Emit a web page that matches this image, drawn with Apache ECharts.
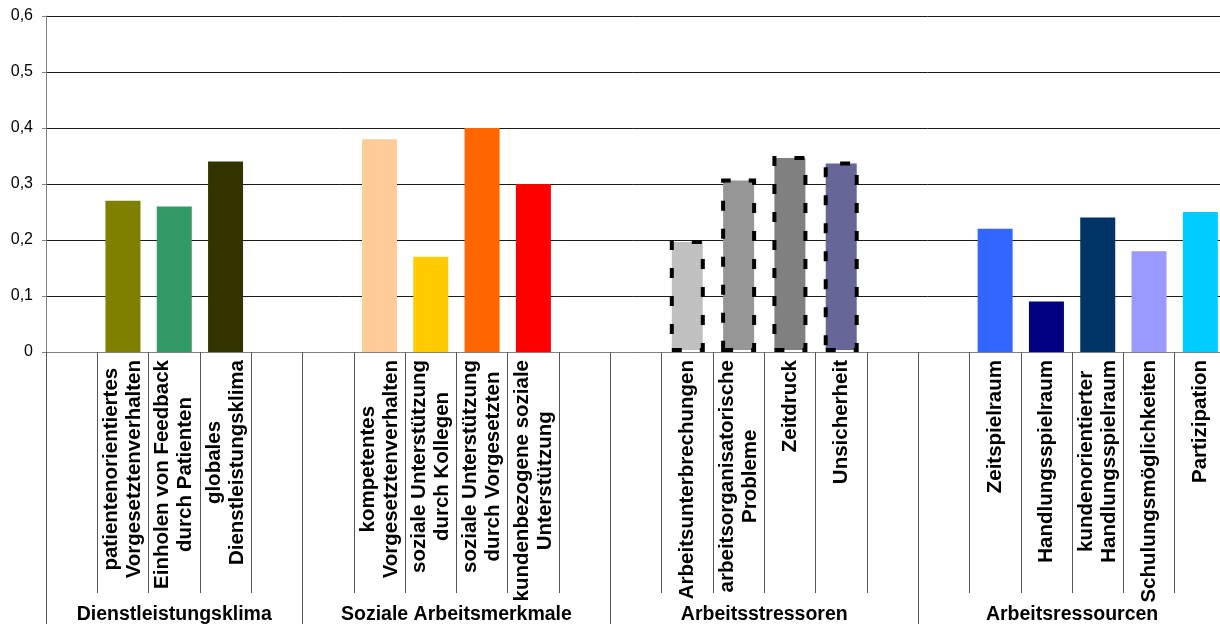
<!DOCTYPE html>
<html>
<head>
<meta charset="utf-8">
<script src="https://cdn.jsdelivr.net/npm/echarts@6/dist/echarts.min.js"></script>
<style>
html,body{margin:0;padding:0;background:#fff;}
#chart{width:1220px;height:624px;}
</style>
</head>
<body>
<div id="chart"></div>
<script>
// ---- data ----
const groups = ['Dienstleistungsklima', 'Soziale Arbeitsmerkmale', 'Arbeitsstressoren', 'Arbeitsressourcen'];
const groupSizes = [5, 6, 6, 6];
const categories = [
  '', 'patientenorientiertes\nVorgesetztenverhalten', 'Einholen von Feedback\ndurch Patienten', 'globales\nDienstleistungsklima', '',
  '', 'kompetentes\nVorgesetztenverhalten', 'soziale Unterstützung\ndurch Kollegen', 'soziale Unterstützung\ndurch Vorgesetzten', 'kundenbezogene soziale\nUnterstützung', '',
  '', 'Arbeitsunterbrechungen', 'arbeitsorganisatorische\nProbleme', 'Zeitdruck', 'Unsicherheit', '',
  '', 'Zeitspielraum', 'Handlungsspielraum', 'kundenorientierter\nHandlungsspielraum', 'Schulungsmöglichkeiten', 'Partizipation'
];
const values = [
  null, 0.27, 0.26, 0.34, null,
  null, 0.38, 0.17, 0.40, 0.30, null,
  null, 0.20, 0.31, 0.35, 0.34, null,
  null, 0.22, 0.09, 0.24, 0.18, 0.25
];
const yTicks = [0, 0.1, 0.2, 0.3, 0.4, 0.5, 0.6];

// ---- styles ----
const colors = [
  null, '#808000', '#339966', '#333300', null,
  null, '#FFCC99', '#FFCC00', '#FF6600', '#FF0000', null,
  null, '#C0C0C0', '#969696', '#808080', '#666699', null,
  null, '#3366FF', '#000080', '#003366', '#9999FF', '#00CCFF'
];
const dashedGroup = 2;

// group index of each category
const catGroup = [];
groupSizes.forEach((n, g) => { for (let i = 0; i < n; i++) catGroup.push(g); });

// secondary axis on half-slot boundaries
const totalSlots = groupSizes.reduce((a, b) => a + b, 0);
const halfCount = totalSlots * 2 + 1;
const boundaryIdx = [0];
const centerIdx = [];
let acc = 0;
groupSizes.forEach(n => { centerIdx.push(acc * 2 + n); acc += n; boundaryIdx.push(acc * 2); });
const groupAxisData = [];
for (let i = 0; i < halfCount; i++) {
  const c = centerIdx.indexOf(i);
  groupAxisData.push(c >= 0 ? groups[c] : '');
}

const seriesData = values.map((v, i) => {
  if (v == null) return '-';
  const st = { color: colors[i] };
  if (catGroup[i] === dashedGroup) {
    st.borderColor = '#000';
    st.borderWidth = 4;
    st.borderType = [10, 18];
  }
  return { value: v, itemStyle: st };
});

const FONT = 'Liberation Sans, Arial, sans-serif';
const chart = echarts.init(document.getElementById('chart'), null, { renderer: 'canvas' });
chart.setOption({
  animation: false,
  backgroundColor: '#fff',
  grid: { left: 46, width: 1180, top: 16, height: 336, containLabel: false, outerBoundsMode: 'none' },
  xAxis: [
    {
      type: 'category',
      data: categories,
      position: 'bottom',
      axisLine: { show: true, lineStyle: { color: '#808080', width: 1 } },
      axisTick: { show: true, interval: 0, length: 241, lineStyle: { color: '#555' } },
      axisLabel: {
        interval: 0,
        rotate: 90,
        margin: 8,
        color: '#000',
        fontFamily: FONT,
        fontWeight: 'bold',
        fontSize: 20.5,
        lineHeight: 23,
        formatter: v => v ? v.split('\n').map(s => '{c|' + s + '}').join('\n') : '',
        rich: { c: { align: 'center', fontFamily: FONT, fontWeight: 'bold', fontSize: 20.5, lineHeight: 23, color: '#000' } }
      },
      splitLine: { show: false }
    },
    {
      type: 'category',
      data: groupAxisData,
      position: 'bottom',
      boundaryGap: false,
      axisLine: { show: false },
      axisTick: { show: true, length: 280, interval: (i) => boundaryIdx.indexOf(i) >= 0, lineStyle: { color: '#555' } },
      axisLabel: {
        interval: 0,
        margin: 253,
        color: '#000',
        fontFamily: FONT,
        fontWeight: 'bold',
        fontSize: 19.5
      },
      splitLine: { show: false }
    }
  ],
  yAxis: {
    type: 'value',
    min: yTicks[0],
    max: yTicks[yTicks.length - 1],
    interval: 0.1,
    axisLine: { show: true, lineStyle: { color: '#808080', width: 1 } },
    axisTick: { show: true, length: 4, lineStyle: { color: '#808080' } },
    axisLabel: {
      margin: 13,
      color: '#000',
      fontFamily: FONT,
      fontSize: 16,
      formatter: v => v === 0 ? '0' : v.toFixed(1).replace('.', ',')
    },
    splitLine: { show: true, lineStyle: { color: '#1a1a1a', width: 1 } }
  },
  series: [{
    type: 'bar',
    xAxisIndex: 0,
    data: seriesData,
    barWidth: 35
  }]
});
</script>
</body>
</html>
